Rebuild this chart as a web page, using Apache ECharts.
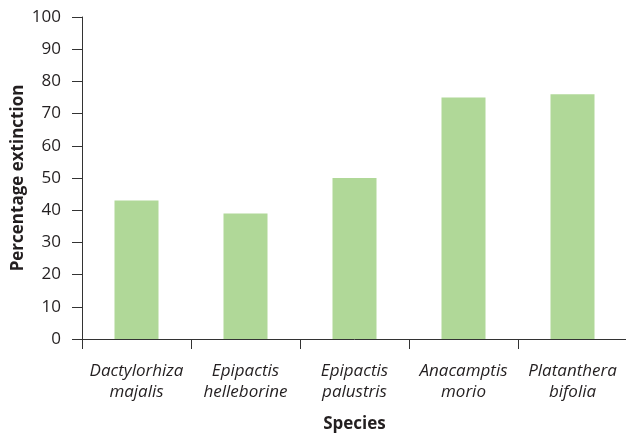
<!DOCTYPE html>
<html><head><meta charset="utf-8">
<script src="https://cdn.jsdelivr.net/npm/echarts@6/dist/echarts.min.js"></script>
<style>html,body{margin:0;padding:0;background:#fff}#c{width:626px;height:434px}</style>
</head><body><div id="c"></div>
<script>
const species = ['Dactylorhiza\nmajalis','Epipactis\nhelleborine','Epipactis\npalustris','Anacamptis\nmorio','Platanthera\nbifolia'];
const extinction = [43, 39, 50, 75, 76];
const yTicks = {min: 0, max: 100, interval: 10};
const font = '"Open Sans", "Noto Sans", sans-serif';
const txt = '#231f20';
const chart = echarts.init(document.getElementById('c'), null, {renderer:'canvas'});
chart.setOption({
  animation: false,
  grid: {left: 82, top: 17, width: 545, bottom: 95, containLabel: false, outerBoundsMode: 'none'},
  xAxis: {
    type: 'category', data: species,
    name: 'Species', nameLocation: 'middle', nameGap: 77, nameMoveOverlap: false,
    nameTextStyle: {fontFamily: font, fontWeight: 'bold', fontSize: 17, color: txt},
    axisLine: {lineStyle: {color: '#333', width: 1}},
    axisTick: {show: true, length: 10, lineStyle: {color: '#333'}},
    axisLabel: {fontFamily: font, fontStyle: 'italic', fontSize: 17, color: txt, lineHeight: 21, margin: 22, interval: 0}
  },
  yAxis: {
    type: 'value', min: yTicks.min, max: yTicks.max, interval: yTicks.interval,
    name: 'Percentage extinction', nameLocation: 'middle', nameGap: 55, nameMoveOverlap: false,
    nameTextStyle: {fontFamily: font, fontWeight: 'bold', fontSize: 17, color: txt},
    axisLine: {show: true, lineStyle: {color: '#333', width: 1}},
    axisTick: {show: true, length: 10, lineStyle: {color: '#333'}},
    splitLine: {show: false},
    axisLabel: {fontFamily: font, fontSize: 17, color: txt, margin: 21}
  },
  series: [{
    type: 'bar', data: extinction, barWidth: 44,
    itemStyle: {color: '#b0d898'}
  }]
});
</script></body></html>
